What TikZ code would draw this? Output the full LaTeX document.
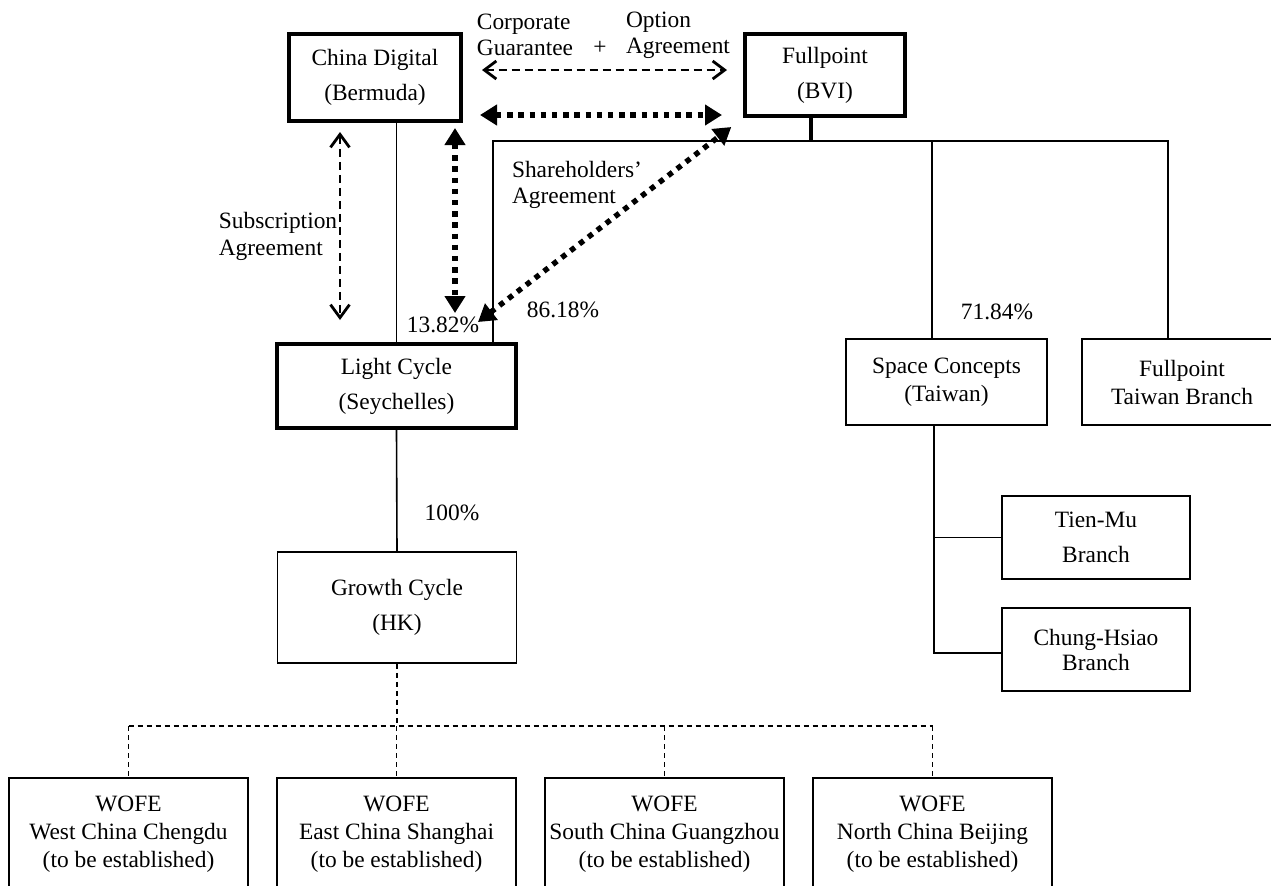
\documentclass[tikz,border=0pt]{standalone}
\usepackage{fontspec}
\setmainfont{Liberation Serif}
\usetikzlibrary{arrows.meta}

\begin{document}
\begin{tikzpicture}[x=0.5pt,y=-0.5pt,
  every node/.style={font=\fontsize{11.7}{14}\selectfont},
  box/.style={draw,line width=0.8pt,inner sep=0pt,align=center},
  heavy/.style={box,line width=2pt},
  link/.style={line width=0.8pt},
  plan/.style={line width=0.8pt,dash pattern=on 2.5pt off 2pt},
  agree/.style={line width=1.3pt,dash pattern=on 4pt off 2.5pt,
    {Straight Barb[length=6pt,width=9pt,line width=1.4pt]}-{Straight Barb[length=6pt,width=9pt,line width=1.4pt]}},
  agreesub/.style={agree,
    {Straight Barb[length=6.5pt,width=9.5pt,line width=1.4pt]}-{Straight Barb[length=6.5pt,width=9.5pt,line width=1.4pt]}},
  deal/.style={line width=2.7pt,dash pattern=on 2.7pt off 2.9pt,
    {Triangle[length=8.5pt,width=10pt]}-{Triangle[length=8.5pt,width=10pt]}}]
\useasboundingbox (0,0) rectangle (1271,885);

\node [heavy,minimum width=86pt,minimum height=43.5pt] (cd) at (375,77.5) {China Digital\\[3.5pt](Bermuda)};
\node [heavy,minimum width=80pt,minimum height=41pt] (fp) at (825,75) {Fullpoint\\[3.5pt](BVI)};
\node [heavy,minimum width=119.5pt,minimum height=42pt] (lc) at (396.5,386) {Light Cycle\\[3.5pt](Seychelles)};
\node [box,minimum width=119.5pt,minimum height=55.5pt] (gc) at (397,607.5) {Growth Cycle\\[3.5pt](HK)};
\node [box,minimum width=100.5pt,minimum height=43pt] (sc) at (946.5,382) {Space Concepts\\(Taiwan)};
\node [box,minimum width=100pt,minimum height=43pt] (ftb) at (1182,382) {Fullpoint\\Taiwan Branch};
\node [box,minimum width=94pt,minimum height=41.5pt] (tm) at (1096,537.5) {Tien-Mu\\[3.5pt]Branch};
\node [box,minimum width=94pt,minimum height=41.5pt] (ch) at (1096,649.5) {Chung-Hsiao\\[-1.5pt]Branch};
\foreach \i/\x/\place in {1/128.5/West China Chengdu,2/396.5/East China Shanghai,
  3/664.5/South China Guangzhou,4/932.5/North China Beijing}
  \node [box,minimum width=119.5pt,minimum height=56pt] (w\i) at (\x,834) {WOFE\\\place\\(to be established)};

% labels
\node [align=left] (cg) at (525,35) {Corporate\\[-1pt]Guarantee};
\node (plus) at (600,48) {+};
\node [align=left] (oa) at (678,35) {Option\\[-1pt]Agreement};
\node [align=left] (sa) at (278,236.5) {Subscription\\[-0.5pt]Agreement};
\node [align=left] (sh) at (577,185) {Shareholders’\\[-1pt]Agreement};
\node (p1) at (443,325) {13.82\%};
\node (p2) at (563,310) {86.18\%};
\node (p3) at (997,312) {71.84\%};
\node (p4) at (452,513) {100\%};

% ownership lines
\coordinate (busL) at (493,141);
\coordinate (busS) at (932,141);
\coordinate (tick) at (811,141);
\coordinate (busR) at (1168,141);
\draw [link] (lc.north -| busL) -- (busL) -- (busR) -- (busR |- ftb.north);
\draw [link] (busS) -- (busS |- sc.north);
\draw [line width=2pt] (tick |- fp.south) -- (tick);
\draw [link] (lc.north |- cd.south) -- (lc.north);
\draw [link] (lc.south) -- (gc.north);
\coordinate (trunk) at (934,653);
\draw [link] (trunk |- sc.south) -- (trunk) -- (trunk -| ch.west);
\draw [link] (trunk |- tm.west) -- (tm.west);

% planned subsidiaries
\coordinate (wbus) at (0,726);
\draw [plan] (gc.south) -- (gc.south |- wbus);
\draw [plan] (w1.north |- wbus) -- (w4.north |- wbus);
\foreach \i in {1,...,4}
  \draw [plan] (w\i.north |- wbus) -- (w\i.north);

% agreements
\coordinate (ga) at (0,70);
\coordinate (gb) at (0,115);
\coordinate (sx) at (340,0);
\coordinate (dx) at (455,0);
\coordinate (shA) at (478,322);
\draw [agree,shorten <=9.5pt,shorten >=8pt] (cd.east |- ga) -- (fp.west |- ga);
\draw [deal,shorten <=8.5pt,shorten >=10.5pt] (cd.east |- gb) -- (fp.west |- gb);
\draw [agreesub,shorten <=4.5pt,shorten >=11pt] (sx |- cd.south) -- (sx |- lc.north);
\draw [deal,shorten <=2.5pt,shorten >=14.5pt] (dx |- cd.south) -- (dx |- lc.north);
\draw [deal,shorten >=7.4pt] (shA) -- (fp.south west);
\end{tikzpicture}
\end{document}
